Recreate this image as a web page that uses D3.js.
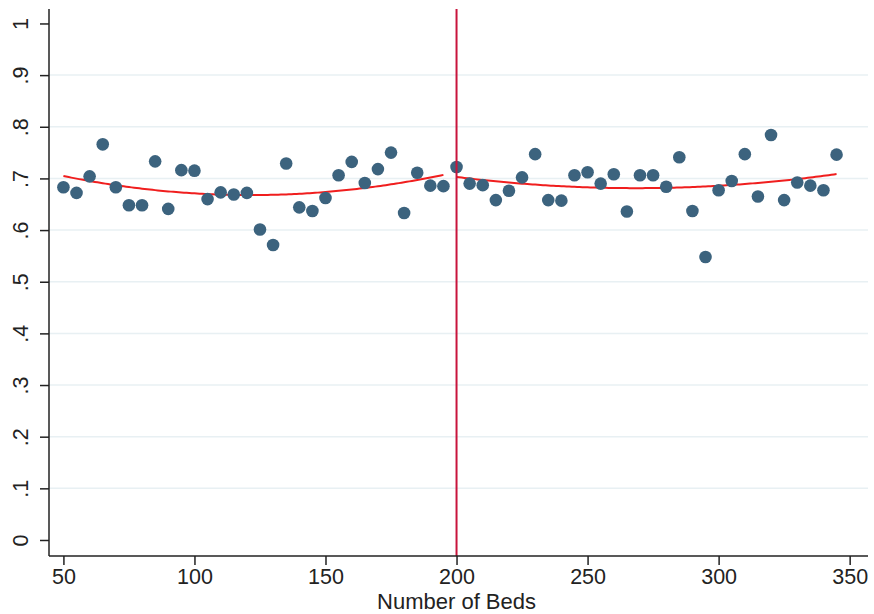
<!DOCTYPE html>
<html><head><meta charset="utf-8">
<script src="https://cdn.jsdelivr.net/npm/d3@7"></script>
<style>body{margin:0;background:#fff}svg{display:block}</style>
</head><body>
<svg id="c" width="874" height="614"></svg>
<script>
const beds = [50,55,60,65,70,75,80,85,90,95,100,105,110,115,120,125,130,135,140,145,150,155,160,165,170,175,180,185,190,195,
              200,205,210,215,220,225,230,235,240,245,250,255,260,265,270,275,280,285,290,295,300,305,310,315,320,325,330,335,340,345];
const share = [0.683,0.672,0.704,0.766,0.683,0.648,0.648,0.733,0.641,0.716,0.715,0.660,0.673,0.669,0.672,0.601,0.571,0.729,0.644,0.637,0.662,0.706,0.732,0.691,0.718,0.750,0.633,0.711,0.686,0.685,
               0.722,0.690,0.687,0.658,0.676,0.702,0.747,0.658,0.657,0.706,0.712,0.690,0.708,0.636,0.706,0.706,0.684,0.741,0.637,0.548,0.677,0.695,0.747,0.665,0.784,0.658,0.692,0.686,0.677,0.746];
const yTicks = [0,0.1,0.2,0.3,0.4,0.5,0.6,0.7,0.8,0.9,1];
const xTicks = [50,100,150,200,250,300,350];
const cutoff = 200;

const svg = d3.select("#c");
const x = d3.scaleLinear().domain([44.5,357]).range([49,868]);
const y = d3.scaleLinear().domain([-0.031,1.028]).range([556,9]);
const font = "Liberation Sans, Arial, sans-serif";

// gridlines
svg.append("g").selectAll("line").data(yTicks.filter(d=>d>0&&d<1)).join("line")
  .attr("x1",49).attr("x2",868).attr("y1",d=>y(d)).attr("y2",d=>y(d))
  .attr("stroke","#e8f0f3").attr("stroke-width",1.5);

// quadratic fit helper (least squares on each side of the cutoff)
function qfit(xs, ys){
  const n=xs.length; let S=[0,0,0,0,0], T=[0,0,0];
  for(let i=0;i<n;i++){const a=xs[i],b=ys[i];
    S[0]+=1;S[1]+=a;S[2]+=a*a;S[3]+=a*a*a;S[4]+=a*a*a*a;T[0]+=b;T[1]+=a*b;T[2]+=a*a*b;}
  const M=[[S[0],S[1],S[2],T[0]],[S[1],S[2],S[3],T[1]],[S[2],S[3],S[4],T[2]]];
  for(let i=0;i<3;i++){for(let k=i+1;k<3;k++){const f=M[k][i]/M[i][i];for(let j=i;j<4;j++)M[k][j]-=f*M[i][j];}}
  const c=[0,0,0];
  for(let i=2;i>=0;i--){let s=M[i][3];for(let j=i+1;j<3;j++)s-=M[i][j]*c[j];c[i]=s/M[i][i];}
  return t=>c[0]+c[1]*t+c[2]*t*t;
}
const pts = beds.map((b,i)=>({b,v:share[i]}));
const left = pts.filter(p=>p.b<cutoff), right = pts.filter(p=>p.b>=cutoff);
const line = d3.line().x(d=>x(d[0])).y(d=>y(d[1]));
[left,right].forEach(seg=>{
  const f = qfit(seg.map(p=>p.b), seg.map(p=>p.v));
  const lo=seg[0].b, hi=seg[seg.length-1].b;
  const arr=d3.range(lo,hi+0.01,1).map(t=>[t,f(t)]);
  svg.append("path").attr("d",line(arr)).attr("fill","none").attr("stroke","#f01e1e").attr("stroke-width",2);
});

// points
svg.append("g").selectAll("circle").data(pts).join("circle")
  .attr("cx",d=>x(d.b)).attr("cy",d=>y(d.v)).attr("r",6.3).attr("fill","#3c637e");

// cutoff line
svg.append("line").attr("x1",x(cutoff)).attr("x2",x(cutoff)).attr("y1",9).attr("y2",556)
  .attr("stroke","#c8143c").attr("stroke-width",2);

// axes
const yAxis = svg.append("g").attr("transform","translate(49,0)")
  .call(d3.axisLeft(y).tickValues(yTicks).tickSize(9).tickFormat(d=>d===0?"0":d===1?"1":d.toFixed(1).replace(/^0/,"")));
const xAxis = svg.append("g").attr("transform","translate(0,556)")
  .call(d3.axisBottom(x).tickValues(xTicks).tickSize(9));
[yAxis,xAxis].forEach(g=>{
  g.select(".domain").attr("stroke","#222").attr("stroke-width",1.5);
  g.selectAll(".tick line").attr("stroke","#222").attr("stroke-width",1.5);
  g.selectAll("text").attr("font-family",font).attr("font-size",21.5).attr("fill","#222");
});
yAxis.select(".domain").attr("d","M0,9V556");
xAxis.select(".domain").attr("d","M49,0H868");
yAxis.selectAll(".tick text").attr("x",null).attr("dy",null).attr("transform","translate(-21.5,0) rotate(-90)")
  .attr("text-anchor","middle");
xAxis.selectAll(".tick text").attr("y",28).attr("dy",null);

svg.append("text").attr("x",x(200)).attr("y",609).attr("text-anchor","middle")
  .attr("font-family",font).attr("font-size",22).attr("fill","#222").text("Number of Beds");
</script>
</body></html>
